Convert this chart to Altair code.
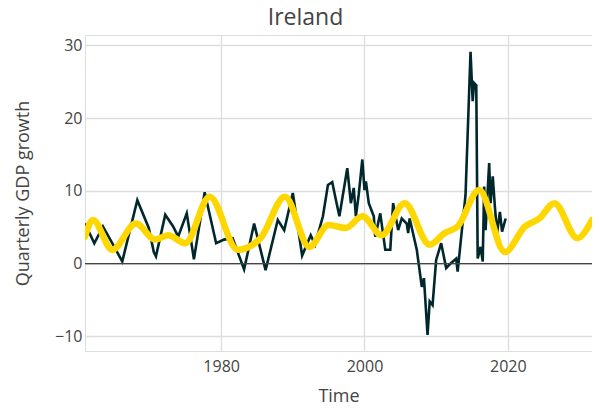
import altair as alt
import pandas as pd

obs_year = [1961.0, 1962.3, 1963.5, 1964.8, 1966.2, 1968.3, 1969.9, 1970.6, 1970.9,
            1972.2, 1973.3, 1974.0, 1975.2, 1976.2, 1977.7, 1979.3, 1980.4, 1981.6,
            1983.2, 1984.6, 1986.2, 1987.9, 1988.8, 1990.0, 1991.3, 1992.5, 1993.1,
            1994.2, 1994.9, 1995.5, 1996.0, 1996.5, 1997.6, 1998.1, 1998.5, 1998.8,
            1999.2, 1999.7, 2000.0, 2000.2, 2000.6, 2001.3, 2001.5, 2002.2, 2002.9,
            2003.6, 2004.0, 2004.7, 2005.2, 2005.9, 2006.1, 2006.3, 2007.3, 2008.0,
            2008.3, 2008.8, 2009.1, 2009.5, 2010.0, 2010.7, 2011.4, 2012.1, 2012.8,
            2013.0, 2013.5, 2014.1, 2014.8, 2015.1, 2015.3, 2015.6, 2015.8, 2016.2,
            2016.5, 2016.7, 2016.9, 2017.4, 2017.6, 2017.9, 2018.2, 2018.5, 2018.9,
            2019.2, 2019.7]
obs_value = [5.5, 2.8, 5.1, 2.8, 0.3, 8.7, 4.9, 1.6, 1.0,
             6.7, 5.1, 3.7, 6.9, 0.6, 9.8, 2.8, 3.3, 3.5,
             -0.8, 5.5, -0.9, 6.0, 4.6, 9.7, 1.1, 3.9, 2.6,
             6.5, 10.8, 11.2, 8.8, 6.5, 13.1, 8.3, 10.4, 6.5,
             9.5, 14.3, 10.1, 11.3, 8.3, 6.5, 3.7, 6.9, 1.9,
             1.9, 8.3, 4.6, 6.2, 5.5, 4.2, 6.2, 1.9, -3.2,
             -2.0, -9.8, -5.2, -5.7, 0.5, 2.8, -0.6, 0.1, 0.7,
             -1.1, 3.7, 9.4, 29.1, 22.3, 24.8, 24.5, 0.7, 2.3,
             0.3, 10.6, 4.6, 13.8, 8.3, 12.0, 7.8, 4.2, 7.1,
             4.4, 6.2]

# Smoothed / forecast series
fit_year = [1961.0, 1962.1, 1964.8, 1968.1, 1970.8, 1972.6, 1975.0, 1978.4,
            1982.3, 1985.5, 1988.9, 1992.3, 1995.0, 1997.4, 1999.7, 2002.4,
            2005.6, 2009.1, 2011.2, 2013.0, 2016.0, 2019.6, 2022.4, 2024.4,
            2026.5, 2029.7, 2031.75]
fit_value = [3.7, 6.0, 1.9, 5.5, 3.3, 3.9, 2.8, 9.2,
             1.9, 3.5, 9.2, 2.3, 5.3, 4.9, 6.5, 3.9,
             8.3, 2.6, 4.2, 5.1, 10.1, 1.6, 5.1, 6.2,
             8.3, 3.5, 6.0]

x_ticks = [1980, 2000, 2020]
y_ticks = [-10, 0, 10, 20, 30]

obs = pd.DataFrame({"year": obs_year, "value": obs_value})
fit = pd.DataFrame({"year": fit_year, "value": fit_value})
zero = pd.DataFrame({"value": [0]})

FONT = "Open Sans"
TXT = "#444444"
ydom = [-12.0, 31.4]

x = alt.X("year:Q", scale=alt.Scale(domain=[1961, 2031.75], nice=False, zero=False),
          axis=alt.Axis(values=x_ticks, format="d", title="Time",
                        grid=True, gridColor="#dddddd", gridWidth=1.3,
                        ticks=False, domain=False, labelPadding=7,
                        labelFontSize=16, labelColor=TXT, labelFont=FONT,
                        titleFontSize=18, titleColor=TXT, titleFont=FONT,
                        titleFontWeight="normal", titleY=50.5, titleBaseline="alphabetic"))
y = alt.Y("value:Q", scale=alt.Scale(domain=ydom, nice=False, zero=False),
          axis=alt.Axis(values=y_ticks, title="Quarterly GDP growth",
                        grid=True, gridColor="#dddddd", gridWidth=1.3,
                        ticks=False, domain=False, labelPadding=3,
                        labelFontSize=16, labelColor=TXT, labelFont=FONT,
                        titleFontSize=18, titleColor=TXT, titleFont=FONT,
                        titleFontWeight="normal", titleX=-62, titleBaseline="middle"))

base_zero = alt.Chart(zero).mark_rule(color=TXT, strokeWidth=1.4).encode(
    y=alt.Y("value:Q", scale=alt.Scale(domain=ydom, nice=False, zero=False)))

obs_line = alt.Chart(obs).mark_line(color="#00272b", strokeWidth=2.6, clip=True).encode(x=x, y=y)
fit_line = alt.Chart(fit).mark_line(color="#ffd700", strokeWidth=6.5, interpolate="monotone",
                                    strokeCap="round", clip=True).encode(x="year:Q", y="value:Q")

chart = alt.layer(obs_line, base_zero, fit_line).properties(
    width=507, height=316,
    title=alt.TitleParams("Ireland", fontSize=23, color=TXT, font=FONT,
                          fontWeight="normal", anchor="middle", dx=-33, offset=5),
    autosize=alt.AutoSizeParams(type="none"),
    padding={"left": 77, "top": 27, "right": 0, "bottom": 55},
).configure_view(stroke=None).configure(background="white")

chart.save("out.html", embed_options={"renderer": "svg", "actions": False})
